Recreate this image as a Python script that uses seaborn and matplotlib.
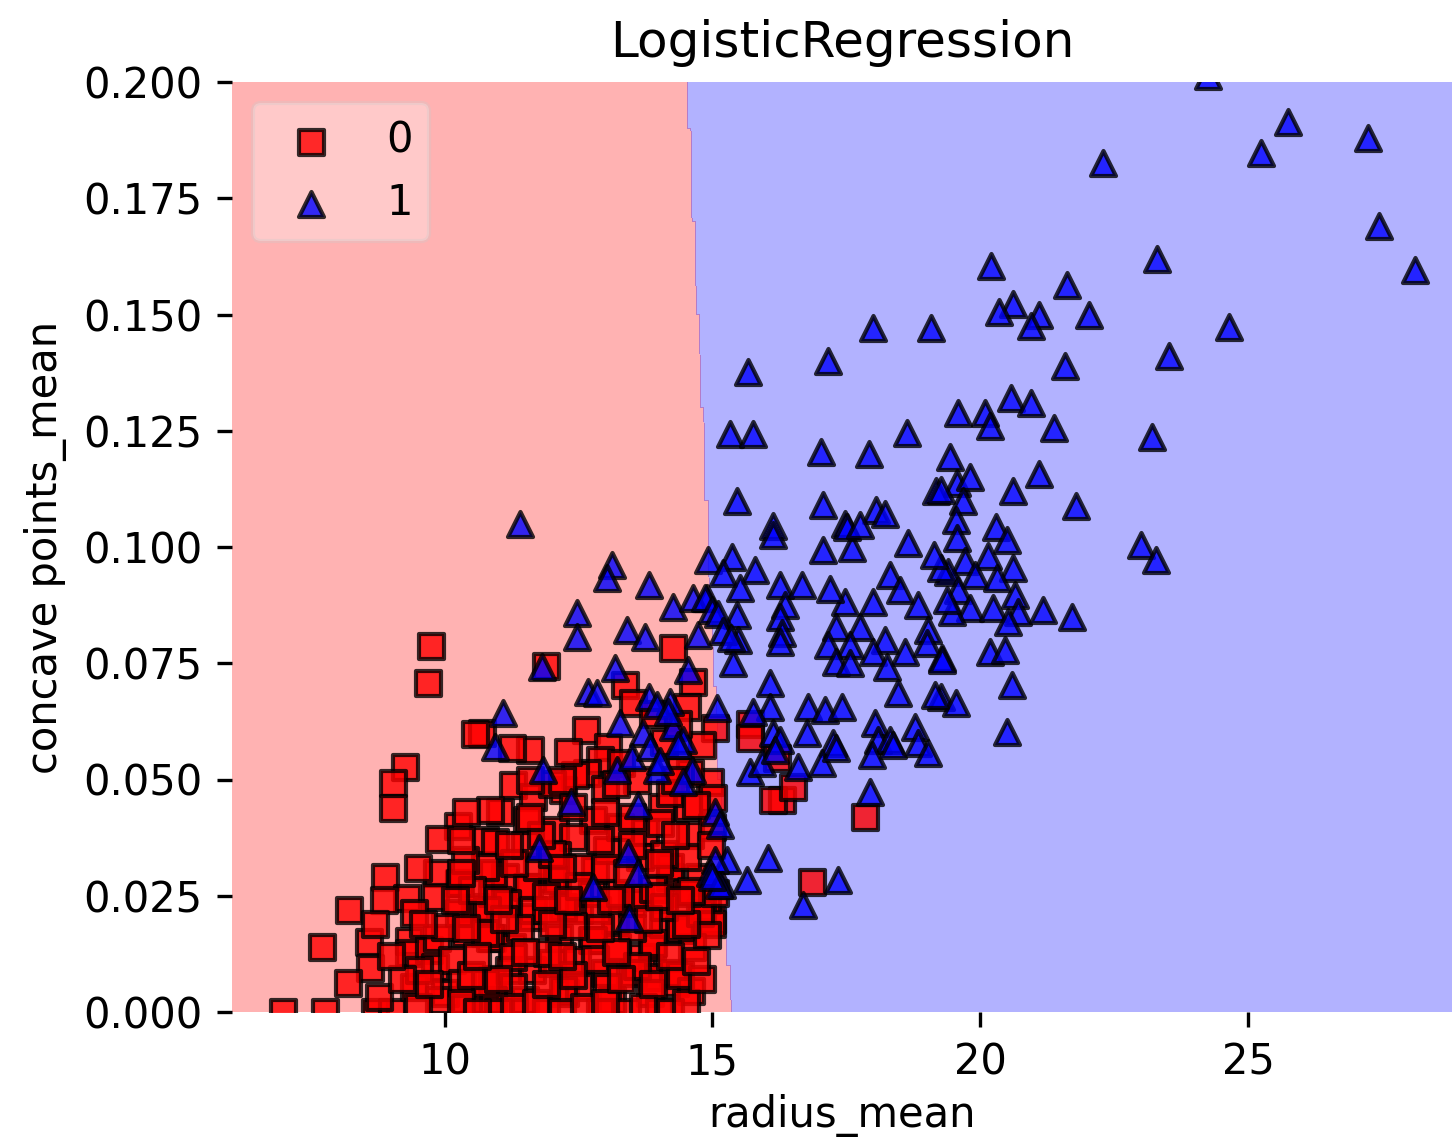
import numpy as np
import pandas as pd
import matplotlib
matplotlib.use("Agg")
import matplotlib.pyplot as plt
import seaborn as sns
from matplotlib.ticker import FormatStrFormatter

# ---------------- data ----------------
class_labels = ["0", "1"]

benign_radius = [
    17.85, 16.86, 16.3, 16.14, 16.5, 16.2, 15.7, 15.7, 14.96, 15.0, 14.9,
    11.9, 14.27, 13.37, 14.64, 14.53, 12.64, 13.05, 11.6, 11.26, 10.7, 12.9, 13.52, 15.05, 14.58,
    9.75, 9.69, 10.57, 9.26, 9.04, 9.04, 10.25, 9.9, 8.89, 9.3, 8.22, 7.71, 8.59, 8.61, 8.2,
    6.98, 7.76, 8.7, 8.87, 9.34, 9.34, 10.27, 9.86, 9.71, 9.82, 10.38, 10.57, 10.75, 10.0, 9.02,
    8.7, 8.77, 9.43, 9.82, 9.86, 10.29, 10.27, 10.01, 10.14, 9.52, 9.9, 10.38, 10.75, 10.89,
    10.89, 10.89, 11.13, 11.13, 11.26, 11.2, 11.5, 11.63, 11.58, 11.63, 12.0, 12.0, 12.14,
    12.25, 12.51, 12.51, 12.75, 12.75, 12.81, 13.0, 13.13, 13.18, 13.5, 13.69, 13.88, 13.88,
    14.07, 14.2, 14.31, 14.38, 14.75, 14.81, 15.0, 14.62,
    11.28, 11.65, 12.66, 14.06, 14.55, 11.04, 11.54, 12.77, 12.07, 10.94, 12.4, 13.74, 14.58,
    12.1, 13.03, 14.21, 10.9, 11.54, 12.1, 11.17, 11.65, 12.21, 13.65, 14.4, 13.9, 13.22,
    12.77, 10.85, 11.28, 11.91, 12.47, 14.27, 13.52, 13.03, 11.28, 12.21, 13.84, 10.9, 14.77,
    14.53, 14.53, 10.8, 12.85, 13.28, 14.02, 10.85, 12.21, 13.28, 13.65, 12.53, 11.73,
    10.75, 10.38, 9.43, 10.51, 10.33, 10.75, 10.75,
    12.44, 15.0, 15.02, 14.98, 15.05, 14.9, 13.9, 14.1, 14.4, 14.2,
    12.3, 13.3, 13.6, 12.0, 13.0, 14.7, 14.8, 14.35,
    11.9, 12.9, 13.4, 14.0, 11.0,
    13.5, 12.5, 12.0, 11.5, 13.0, 13.9, 14.1, 12.4, 11.9, 11.4, 13.6, 12.8, 14.6, 14.6, 14.1,
    9.5, 10.3, 10.6, 11.3, 11.7, 12.2, 12.6, 13.0, 13.7, 14.2, 14.5,
    9.2, 9.7, 10.5, 11.0, 11.9, 12.4, 13.3, 13.9, 14.4, 14.8,
    9.0, 10.6, 11.5, 12.2, 13.2, 14.2, 14.7,
    9.6, 10.4, 11.1, 12.0, 12.9, 13.8, 14.5,
    10.2, 11.0, 11.9, 12.3, 13.1, 14.0, 14.4,
    9.5, 10.3, 11.3, 12.2, 13.4, 14.0,
    10.3, 11.2, 11.8, 12.9, 13.5, 14.3,
    10.4, 11.6, 12.4, 13.0, 13.5,
    11.6, 12.2, 13.2, 14.3,
]
benign_concave = [
    0.042, 0.028, 0.0456, 0.0456, 0.0484, 0.0546, 0.062, 0.059, 0.0495, 0.0198, 0.024,
    0.0744, 0.0783, 0.0703, 0.071, 0.0656, 0.0606, 0.057, 0.0563, 0.0568, 0.060, 0.0542, 0.0664, 0.061, 0.0514,
    0.0787, 0.0707, 0.0598, 0.0527, 0.0493, 0.0439, 0.0399, 0.0372, 0.029, 0.0245, 0.0219, 0.014, 0.015, 0.0094, 0.0062,
    0.0, 0.0, 0.0, 0.024, 0.0153, 0.0127, 0.0277, 0.030, 0.0133, 0.0097, 0.017, 0.0226, 0.037, 0.004, 0.0,
    0.019, 0.0032, 0.0054, 0.0247, 0.016, 0.0277, 0.0213, 0.0183, 0.0112, 0.009, 0.0026, 0.0026, 0.0026, 0.016,
    0.0069, 0.0256, 0.0234, 0.029, 0.014, 0.009, 0.0026, 0.0204, 0.0269, 0.009, 0.0105, 0.0288, 0.016,
    0.004, 0.0054, 0.0219, 0.0155, 0.0256, 0.0305, 0.0084, 0.0026, 0.0198, 0.0234, 0.0118, 0.014, 0.0075,
    0.019, 0.029, 0.0062, 0.0176, 0.029, 0.0226, 0.019, 0.014,
    0.0488, 0.0462, 0.0514, 0.0441, 0.0441, 0.043, 0.0413, 0.0413, 0.0391, 0.0366, 0.0376, 0.0387, 0.038,
    0.0338, 0.0348, 0.0312, 0.030, 0.0269, 0.0284, 0.0234, 0.0219, 0.0226, 0.0247, 0.0183, 0.0148, 0.014,
    0.0155, 0.016, 0.0118, 0.0127, 0.0112, 0.0084, 0.0084, 0.0054, 0.0054, 0.0047, 0.004, 0.0026, 0.0213,
    0.0333, 0.0256, 0.0219, 0.0219, 0.0256, 0.0406, 0.0434, 0.0477, 0.0398, 0.0333, 0.0312, 0.0312,
    0.0312, 0.0327, 0.0213, 0.0262, 0.0062, 0.0062, 0.017,
    0.051, 0.0398, 0.046, 0.036, 0.0255, 0.0165, 0.064, 0.058, 0.052, 0.047,
    0.056, 0.0535, 0.050, 0.049, 0.048, 0.0445, 0.0575, 0.062,
    0.0, 0.0, 0.0, 0.0, 0.0,
    0.018, 0.027, 0.034, 0.036, 0.031, 0.0265, 0.034, 0.0185, 0.022, 0.018, 0.010, 0.0115, 0.0045, 0.026, 0.0225,
    0.001, 0.002, 0.0, 0.001, 0.002, 0.0, 0.001, 0.002, 0.001, 0.0, 0.002,
    0.007, 0.006, 0.008, 0.007, 0.006, 0.008, 0.007, 0.006, 0.008, 0.007,
    0.012, 0.012, 0.013, 0.012, 0.013, 0.012, 0.011,
    0.019, 0.018, 0.020, 0.019, 0.018, 0.020, 0.019,
    0.024, 0.024, 0.025, 0.024, 0.024, 0.025, 0.024,
    0.031, 0.030, 0.032, 0.031, 0.030, 0.032,
    0.037, 0.036, 0.038, 0.037, 0.036, 0.038,
    0.043, 0.042, 0.044, 0.043, 0.042,
    0.050, 0.050, 0.049, 0.050,
]

malignant_radius = [
    24.25, 25.75, 27.25, 25.25, 22.30, 27.45, 28.11, 20.20, 23.30, 21.63, 20.62, 20.36, 21.10,
    20.95, 22.03, 24.65, 23.53, 21.59, 20.58, 20.95,
    15.67, 17.16, 18.0, 19.09, 15.33, 15.76, 17.03, 17.93, 18.64, 15.46, 17.07, 18.06, 18.23,
    19.59, 20.09, 20.19, 21.38, 23.21, 19.44, 19.18, 19.57, 17.48, 16.13,
    21.1, 19.81, 20.62, 19.26, 19.68, 21.78, 19.55, 20.3, 20.5, 19.57, 20.15, 20.62, 19.72,
    19.4, 19.91, 20.32, 19.26, 19.59, 20.65, 19.81, 19.48, 20.24, 20.71, 21.18, 21.72, 20.52,
    20.19, 20.47, 19.29, 20.6, 19.26, 19.55, 20.5, 23.0, 23.28,
    16.14, 17.07, 17.61, 17.51, 17.76, 18.66, 19.13, 14.92, 15.37, 15.8, 15.2, 15.52, 16.27,
    16.68, 14.9, 16.36, 15.46, 16.27, 17.48, 18.0, 18.32, 18.5, 18.84, 19.38, 17.3, 17.76,
    19.03, 16.3, 15.48, 17.16, 17.57, 18.22, 18.6, 19.01, 17.3, 17.57, 18.0, 18.26, 19.29,
    16.27, 15.39, 16.08, 18.47, 19.16, 16.79, 17.1, 17.42, 16.08, 15.76, 18.04, 18.79, 16.77,
    17.26, 18.1, 18.32, 16.14, 15.09, 18.84, 16.27,
    15.7, 15.93, 16.17, 16.6, 17.05, 17.3, 17.98, 18.38, 19.03, 17.94, 15.05, 15.14, 16.04,
    15.28, 15.05, 15.65, 15.18, 17.35, 16.7, 14.96,
    13.13, 13.03, 13.82, 12.47, 12.47, 13.41, 13.74, 14.27, 14.64, 14.86, 14.73, 11.82, 13.18,
    14.55, 12.68, 12.85, 13.82, 14.21, 11.09, 13.28, 13.7, 14.27, 14.46, 10.94, 11.84, 13.22,
    13.5, 13.84, 13.97, 14.62,
    11.41, 12.36, 11.77, 13.61, 13.43, 13.61, 12.77, 13.44, 14.46, 15.13, 15.0,
    13.97, 14.17, 14.36, 14.02, 15.0, 15.1, 15.2, 15.35, 17.2,
]
malignant_concave = [
    0.2012, 0.1914, 0.188, 0.1847, 0.1826, 0.169, 0.1596, 0.1604, 0.162, 0.1563, 0.1523, 0.1505, 0.1499,
    0.1475, 0.150, 0.1473, 0.141, 0.139, 0.132, 0.131,
    0.1376, 0.140, 0.147, 0.147, 0.1243, 0.1243, 0.1204, 0.120, 0.1245, 0.1099, 0.109, 0.108, 0.107,
    0.1288, 0.1288, 0.126, 0.1256, 0.1237, 0.1194, 0.112, 0.1138, 0.105, 0.1045,
    0.1157, 0.115, 0.112, 0.1123, 0.110, 0.1088, 0.1058, 0.1043, 0.1015, 0.102, 0.098, 0.0955, 0.097,
    0.0946, 0.094, 0.0933, 0.0955, 0.0907, 0.0897, 0.0869, 0.086, 0.0869, 0.086, 0.0865, 0.085, 0.0839,
    0.0774, 0.0778, 0.0761, 0.0703, 0.0677, 0.0665, 0.0602, 0.1004, 0.0972,
    0.1026, 0.0994, 0.0998, 0.1043, 0.1047, 0.1009, 0.0983, 0.0972, 0.0979, 0.095, 0.0944, 0.0912, 0.0918,
    0.0918, 0.089, 0.0875, 0.0854, 0.085, 0.0882, 0.0882, 0.094, 0.0908, 0.0875, 0.0886, 0.0828, 0.0828,
    0.0821, 0.0815, 0.080, 0.079, 0.079, 0.080, 0.0774, 0.0794, 0.0753, 0.075, 0.0774, 0.0742, 0.0757,
    0.0796, 0.075, 0.0708, 0.0686, 0.0682, 0.0656, 0.065, 0.0656, 0.0656, 0.0645, 0.0621, 0.0613, 0.060,
    0.0578, 0.0585, 0.0585, 0.060, 0.0654, 0.0578, 0.0585,
    0.0516, 0.0535, 0.0563, 0.0527, 0.0535, 0.0568, 0.0553, 0.0574, 0.0557, 0.0473, 0.043, 0.0402, 0.0331,
    0.0327, 0.0327, 0.0284, 0.0273, 0.0284, 0.023, 0.030,
    0.0961, 0.0933, 0.0918, 0.0858, 0.0806, 0.0822, 0.0806, 0.0871, 0.089, 0.089, 0.081, 0.0742, 0.074,
    0.0735, 0.0688, 0.0686, 0.0677, 0.0667, 0.0643, 0.0621, 0.060, 0.0613, 0.0585, 0.057, 0.052, 0.052,
    0.0548, 0.057, 0.052, 0.052,
    0.105, 0.0452, 0.0353, 0.0445, 0.0342, 0.030, 0.0269, 0.0202, 0.0495, 0.0273, 0.029,
    0.066, 0.0645, 0.0575, 0.054, 0.0865, 0.0855, 0.082, 0.0805, 0.091,
]

# decision boundary of the fitted model: radius where the class switches,
# at concave points = 0 and at concave points = 0.2
boundary_concave = [0.0, 0.2]
boundary_radius = [15.34, 14.53]

x_limits = [6.03, 28.81]
y_limits = [0.0, 0.2]
x_ticks = [10, 15, 20, 25]
y_ticks = [0.0, 0.025, 0.05, 0.075, 0.1, 0.125, 0.15, 0.175, 0.2]

# ---------------- figure ----------------
plt.rcParams["font.family"] = ["DejaVu Sans"]

W, H, DPI = 1452, 1139, 300
fig = plt.figure(figsize=(W / DPI, H / DPI), dpi=DPI)
ax = fig.add_axes([232 / W, 1 - 1012 / H, (W - 232) / W, (1012 - 82) / H])

# decision regions on a grid (resolution 0.02, as mlxtend does)
xx, yy = np.meshgrid(np.arange(5.98, 29.12, 0.02), np.arange(-1.0, 1.2, 0.02))
slope = (boundary_radius[1] - boundary_radius[0]) / (boundary_concave[1] - boundary_concave[0])
Z = (xx > boundary_radius[0] + slope * (yy - boundary_concave[0])).astype(int)
ax.contourf(xx, yy, Z, levels=[-0.5, 0.5, 1.5], colors=["red", "blue"], alpha=0.3)

df0 = pd.DataFrame({"radius_mean": benign_radius, "concave points_mean": benign_concave})
df1 = pd.DataFrame({"radius_mean": malignant_radius, "concave points_mean": malignant_concave})
sns.scatterplot(data=df0, x="radius_mean", y="concave points_mean", marker="s", color="red",
                edgecolor="black", linewidth=1.0, alpha=0.8, s=36, label=class_labels[0], ax=ax)
sns.scatterplot(data=df1, x="radius_mean", y="concave points_mean", marker="^", color="blue",
                edgecolor="black", linewidth=1.0, alpha=0.8, s=36, label=class_labels[1], ax=ax)

ax.set_xlim(*x_limits)
ax.set_ylim(*y_limits)
ax.set_xticks(x_ticks)
ax.set_yticks(y_ticks)
ax.yaxis.set_major_formatter(FormatStrFormatter("%.3f"))
for sp in ax.spines.values():
    sp.set_visible(False)

ax.set_xlabel("radius_mean", fontsize=10, color="black", labelpad=2.5)
ax.set_ylabel("concave points_mean", fontsize=10, color="black")
ax.set_title("LogisticRegression", fontsize=12, color="black")
ax.tick_params(labelsize=10, length=3.5, width=0.8, colors="black")
ax.legend(loc="upper left", framealpha=0.3, scatterpoints=1)

fig.savefig("out.png", dpi=DPI)
